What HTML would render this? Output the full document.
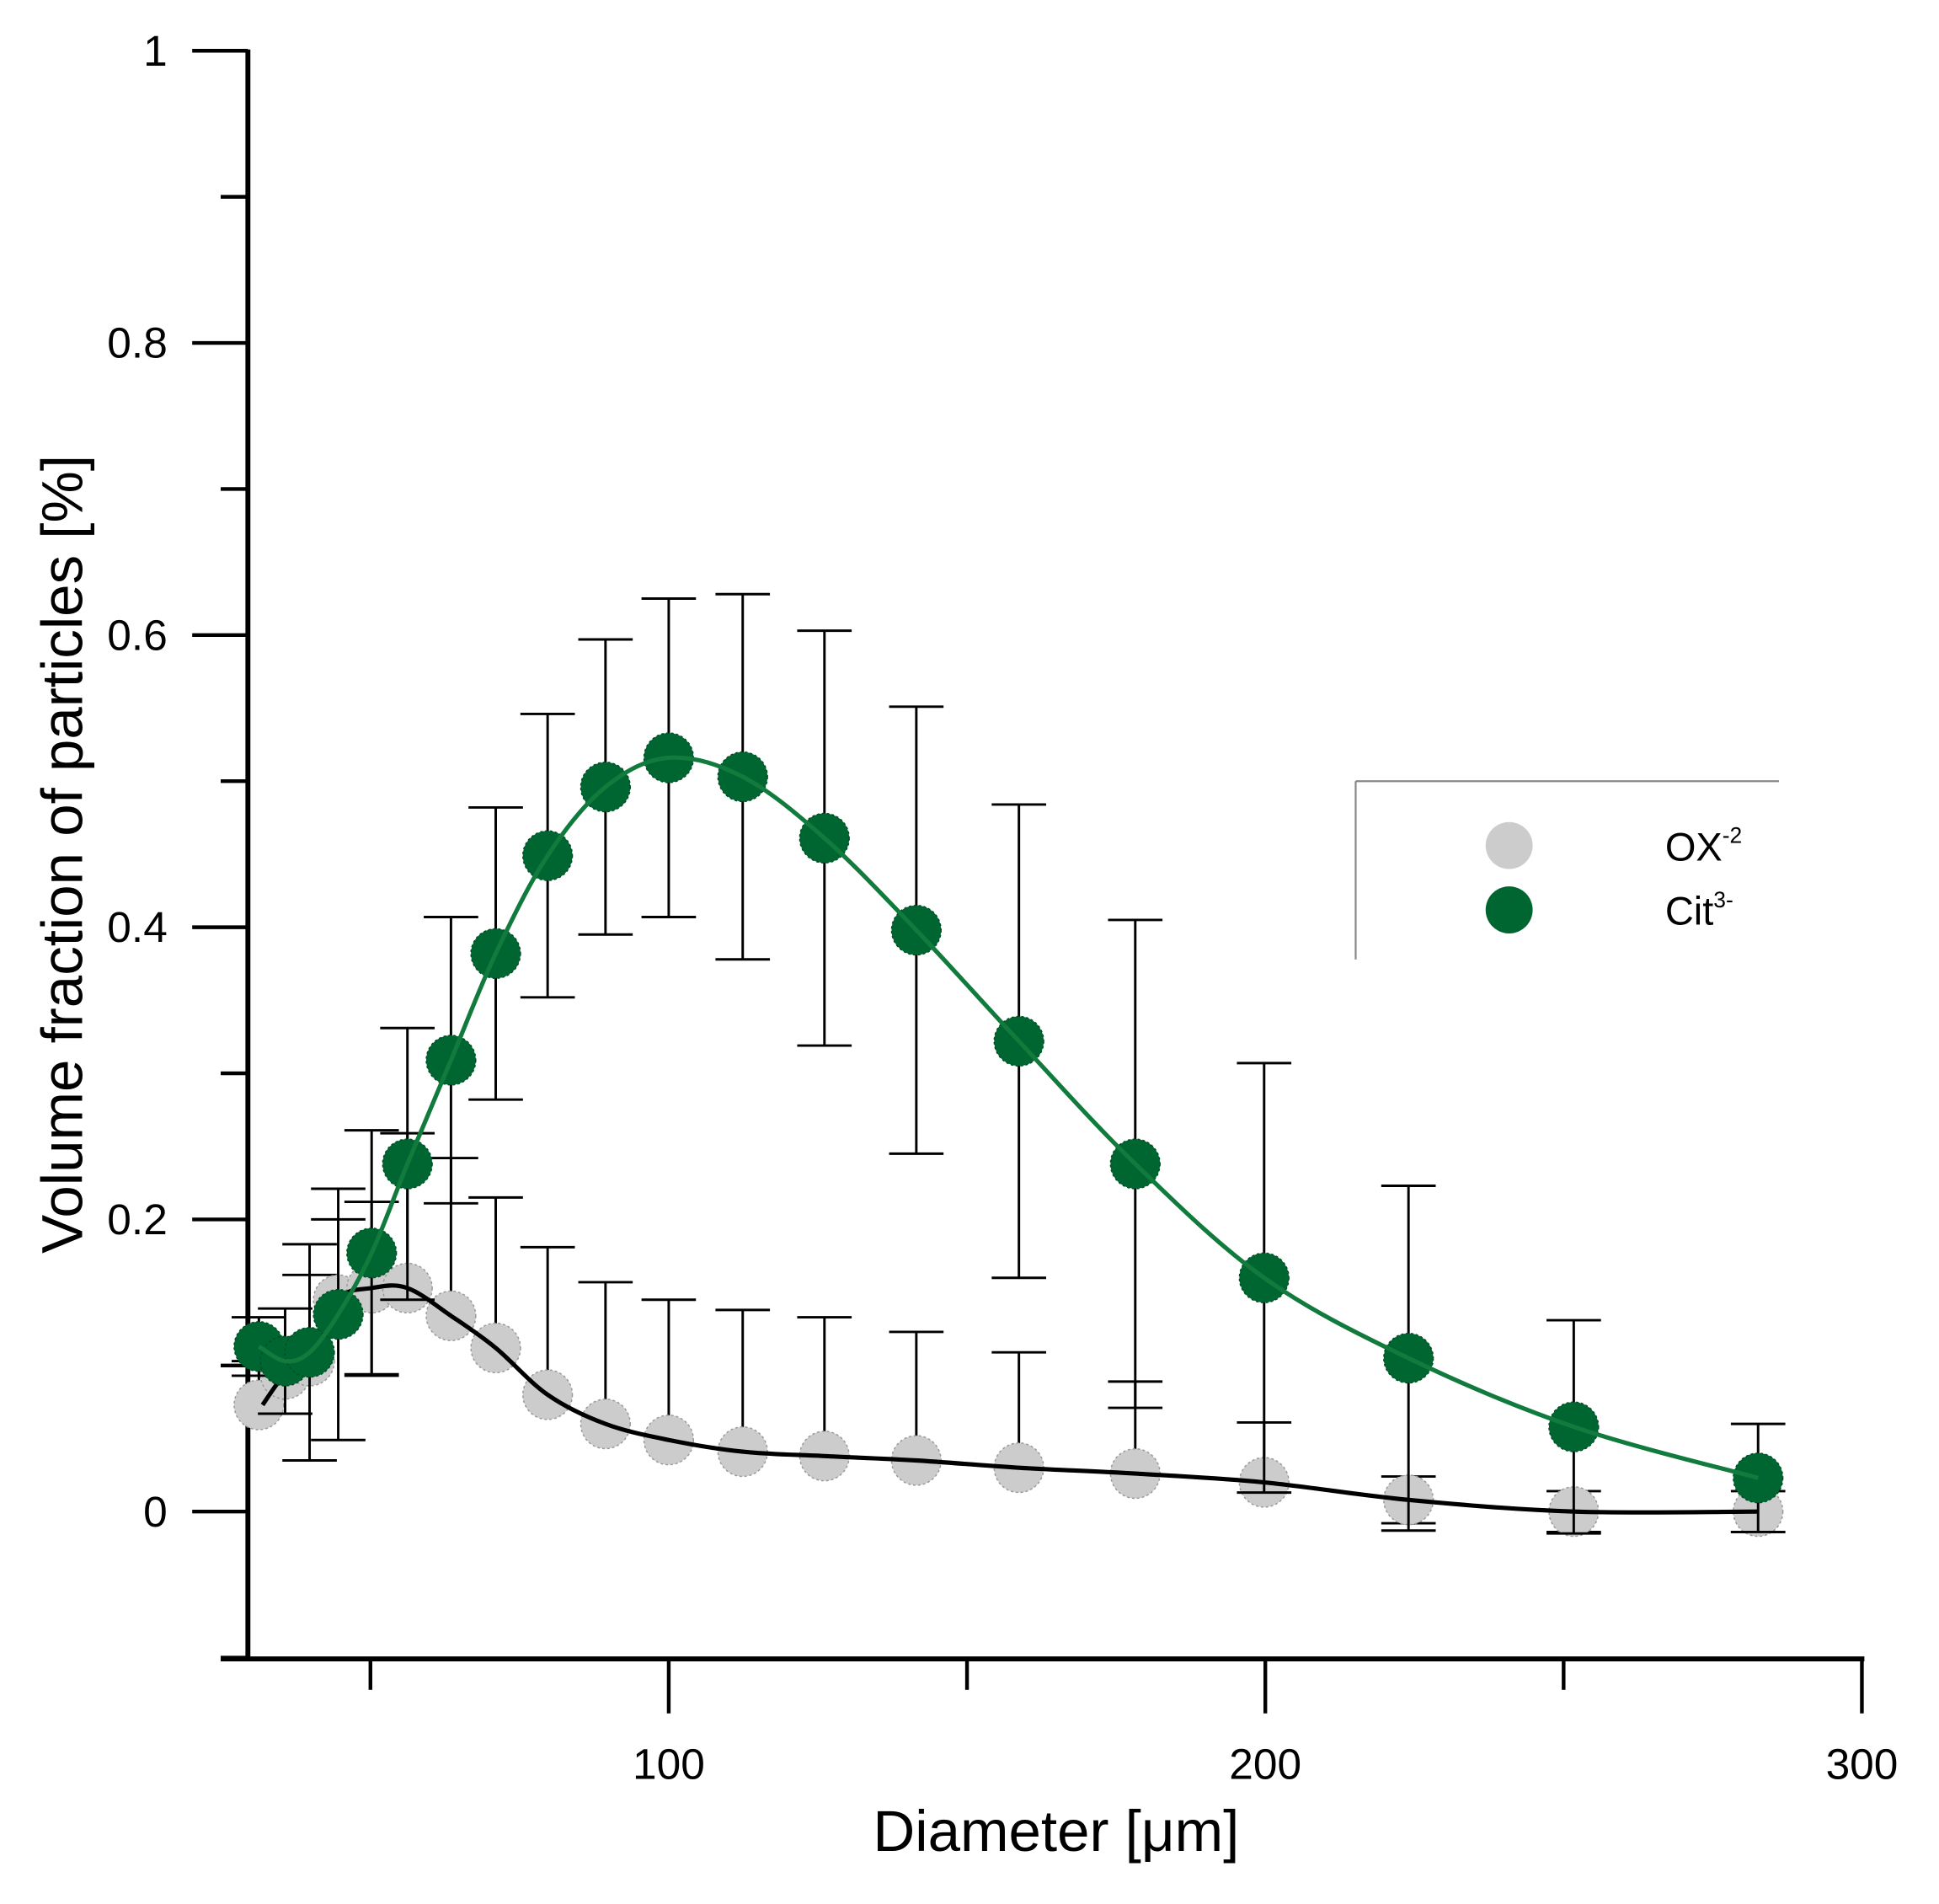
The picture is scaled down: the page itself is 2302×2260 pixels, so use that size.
<!DOCTYPE html>
<html><head><meta charset="utf-8"><style>html,body{margin:0;padding:0;background:#fff}svg{display:block}text{font-family:"Liberation Sans",sans-serif}</style></head>
<body>
<svg id="chart" width="2302" height="2260" viewBox="0 0 1566 1538" xmlns="http://www.w3.org/2000/svg"></svg>
<script>
const diameters=[31.3,35.7,39.8,44.6,50.2,56.2,63.5,71,79.7,89.4,100,112.4,126.1,141.5,158.7,178.2,199.8,224,251.7,282.6];
const citValues=[0.113,0.103,0.109,0.135,0.177,0.238,0.309,0.382,0.449,0.496,0.516,0.503,0.461,0.398,0.322,0.238,0.160,0.105,0.058,0.023];
const citErrors=[0.02,0.036,0.074,0.086,0.084,0.093,0.098,0.1,0.097,0.101,0.109,0.125,0.142,0.153,0.162,0.167,0.147,0.118,0.073,0.037];
const oxValues=[0.073,0.094,0.103,0.145,0.153,0.153,0.134,0.112,0.080,0.060,0.049,0.041,0.038,0.035,0.030,0.026,0.020,0.008,0,0];
const oxErrors=[0.03,0.025,0.059,0.055,0.059,0.106,0.108,0.103,0.101,0.097,0.096,0.097,0.095,0.088,0.079,0.063,0.041,0.016,0.014,0.014];
const oxLowerShown=[0,0,0,0,1,0,0,0,0,0,0,0,0,0,0,0,0,1,1,1];
const yTicks=[0,0.2,0.4,0.6,0.8,1];
const yTickLabels=["0","0.2","0.4","0.6","0.8","1"];
const xTicks=[100,200,300];
const xTickLabels=["100","200","300"];

const NS="http://www.w3.org/2000/svg";
const svg=document.getElementById('chart');
const X=v=>58+v*4.82;
const Y=v=>1221-v*1180;
function el(t,a,p){const e=document.createElementNS(NS,t);for(const k in a)e.setAttribute(k,a[k]);(p||svg).appendChild(e);return e;}
function smooth(pts){let d=`M${pts[0][0]},${pts[0][1]}`;for(let i=0;i<pts.length-1;i++){const p0=pts[Math.max(0,i-1)],p1=pts[i],p2=pts[i+1],p3=pts[Math.min(pts.length-1,i+2)];
d+=` C${p1[0]+(p2[0]-p0[0])/6},${p1[1]+(p2[1]-p0[1])/6} ${p2[0]-(p3[0]-p1[0])/6},${p2[1]-(p3[1]-p1[1])/6} ${p2[0]},${p2[1]}`;}return d;}

const ax=el('g',{});


el('line',{x1:200,y1:40,x2:200,y2:1342,stroke:'#000','stroke-width':4},ax);
el('line',{x1:178,y1:1340,x2:1506,y2:1340,stroke:'#000','stroke-width':4},ax);
yTicks.forEach((v,i)=>{
  el('line',{x1:155,y1:Y(v),x2:200,y2:Y(v),stroke:'#000','stroke-width':3},ax);
  el('line',{x1:178,y1:Y(v+0.1),x2:200,y2:Y(v+0.1),stroke:'#000','stroke-width':3},ax);
  const t=el('text',{x:135,y:Y(v)+12,'text-anchor':'end','font-size':35},ax);t.textContent=yTickLabels[i];
  
  
});
el('line',{x1:178,y1:Y(-0.1),x2:200,y2:Y(-0.1),stroke:'#000','stroke-width':3},ax);
xTicks.forEach((v,i)=>{
  el('line',{x1:X(v),y1:1340,x2:X(v),y2:1384,stroke:'#000','stroke-width':3},ax);
  el('line',{x1:X(v-50),y1:1340,x2:X(v-50),y2:1365,stroke:'#000','stroke-width':3},ax);
  const t=el('text',{x:X(v),y:1437,'text-anchor':'middle','font-size':35},ax);t.textContent=xTickLabels[i];
  
  
});
const xt=el('text',{x:853,y:1495,'text-anchor':'middle','font-size':47});xt.textContent='Diameter [μm]';


const yt=el('text',{x:0,y:0,'text-anchor':'middle','font-size':47,transform:'translate(66,690) rotate(-90)'});yt.textContent='Volume fraction of particles [%]';



function series(vals,errs,lowerShown,fill,stroke,lineColor,name,linePts){
  const g=el('g',{});
  
  
  vals.forEach((v,i)=>{
    const x=X(diameters[i]);
    const low=lowerShown?lowerShown[i]:1;
    const e=el('g',{stroke:'#000','stroke-width':2},g);
    
    
    el('line',{x1:x,y1:low?Y(v-errs[i]):Y(v),x2:x,y2:Y(v+errs[i])},e);
    el('line',{x1:x-22,y1:Y(v+errs[i]),x2:x+22,y2:Y(v+errs[i])},e);
    if(low) el('line',{x1:x-22,y1:Y(v-errs[i]),x2:x+22,y2:Y(v-errs[i])},e);
  });
  vals.forEach((v,i)=>{
    const c=el('circle',{cx:X(diameters[i]),cy:Y(v),r:20,fill:fill,stroke:stroke,'stroke-width':1,'stroke-dasharray':'2 2'},g);
    
    
  });
  const p=el('path',{d:smooth(linePts),fill:'none',stroke:lineColor,'stroke-width':3.5},g);
  
  
}
series(oxValues,oxErrors,oxLowerShown,'#cccccc','#999','#000','ox',oxValues.map((v,i)=>[X(diameters[i])+(i==0?3:0),Y(v)]));
series(citValues,citErrors,null,'#006631','#004d24','#117a3d','cit',citValues.map((v,i)=>[X(diameters[i]),Y(v)]));

const lg=el('g',{});


el('line',{x1:1095,y1:631,x2:1437,y2:631,stroke:'#888','stroke-width':1.5},lg);
el('line',{x1:1095,y1:631,x2:1095,y2:775,stroke:'#888','stroke-width':1.5},lg);
const l1=el('circle',{cx:1219,cy:683,r:19,fill:'#cccccc'},lg);


const l2=el('circle',{cx:1219,cy:735,r:19,fill:'#006631'},lg);


const t1=el('text',{x:1345,y:695,'font-size':32},lg);t1.innerHTML='OX<tspan font-size="18" dy="-14">-2</tspan>';


const t2=el('text',{x:1345,y:747,'font-size':32},lg);t2.innerHTML='Cit<tspan font-size="18" dy="-14">3-</tspan>';


</script>
</body></html>
